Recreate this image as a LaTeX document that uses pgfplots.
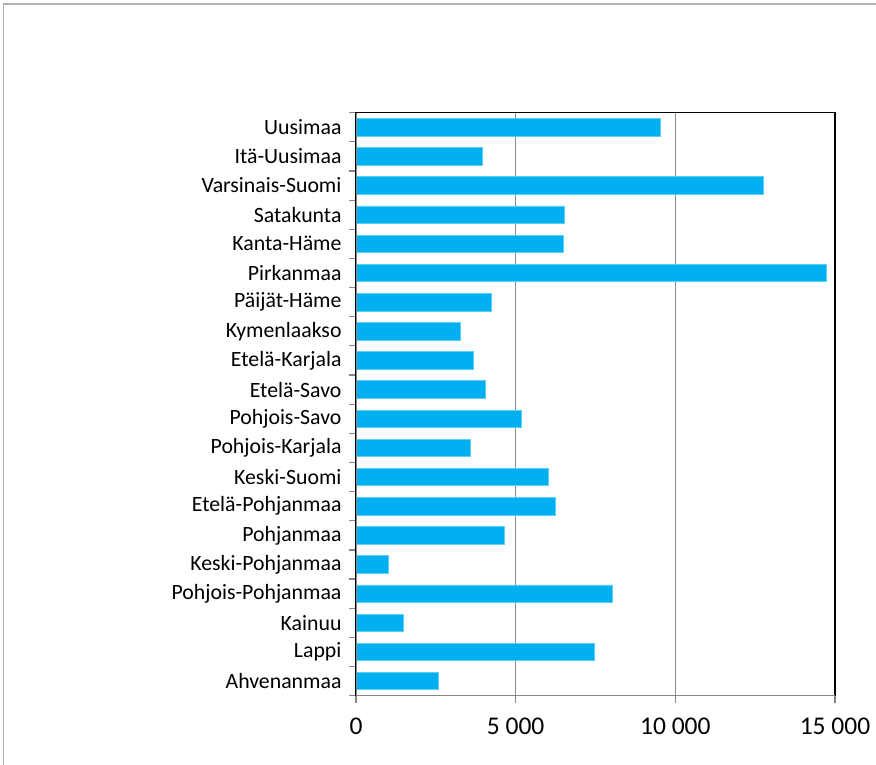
\documentclass[border=0pt]{standalone}
\usepackage{pgfplots}
\pgfplotsset{compat=1.18}
\usepackage{fontspec}
\setmainfont{Carlito}
\definecolor{barblue}{HTML}{00B0F0}
\definecolor{baredge}{HTML}{5CCDF5}
\definecolor{axgray}{HTML}{868686}
\definecolor{gridgray}{HTML}{8C8C8C}
\begin{document}
\begin{tikzpicture}[x=1pt,y=1pt]
\path[use as bounding box] (0,0) rectangle (876,765);
\draw[gray!60, line width=1.2pt] (3.3,-10) -- (3.3,761) -- (890,761);
\begin{axis}[
  at={(356pt,69.3pt)}, anchor=south west,
  scale only axis, width=479pt, height=583pt,
  xmin=0, xmax=15000, ymin=0.5, ymax=20.5,
  xbar, bar width=0.6,
  scaled x ticks=false,
  axis line style={black, line width=1.2pt},
  xtick={0,5000,10000,15000},
  xticklabels={0,5 000,10 000,15 000},
  ytick={1,...,20},
  yticklabels={Ahvenanmaa,Lappi,Kainuu,Pohjois-Pohjanmaa,Keski-Pohjanmaa,Pohjanmaa,Etelä-Pohjanmaa,Keski-Suomi,Pohjois-Karjala,Pohjois-Savo,Etelä-Savo,Etelä-Karjala,Kymenlaakso,Päijät-Häme,Pirkanmaa,Kanta-Häme,Satakunta,Varsinais-Suomi,Itä-Uusimaa,Uusimaa},
  minor ytick={0.5,1.5,...,20.5},
  tick align=outside,
  xtick pos=bottom, ytick pos=left,
  major tick length=7pt,
  minor tick length=7pt,
  major y tick style={draw=none},
  minor y tick style={draw=axgray, line width=1.2pt},
  x tick style={draw=axgray, line width=1.2pt},
  xmajorgrids, major x grid style={gridgray, line width=1pt},
  yticklabel style={font=\fontsize{21.8}{26}\selectfont, xshift=-4pt},
  xticklabel style={font=\fontsize{25.5}{30}\selectfont, yshift=-12pt},
]
\addplot[fill=barblue, draw=baredge, line width=0.8pt] coordinates {
(2570,1) (7470,2) (1490,3) (8040,4) (1000,5) (4650,6) (6240,7) (6040,8) (3580,9) (5190,10)
(4060,11) (3670,12) (3280,13) (4240,14) (14730,15) (6490,16) (6520,17) (12760,18) (3960,19) (9520,20)
};
\draw[axgray, line width=1.6pt] (axis cs:0,0.5) -- (axis cs:0,20.5);
\draw[axgray, line width=1.6pt] (axis cs:0,0.5) -- (axis cs:15000,0.5);
\end{axis}
\end{tikzpicture}
\end{document}
